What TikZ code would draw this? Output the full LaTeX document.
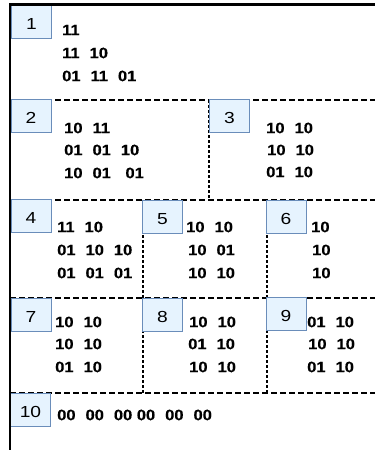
\documentclass[tikz,border=0pt]{standalone}
\usepackage{fontspec}
\setmainfont{Liberation Sans}
\newfontfamily\labelfont[FakeStretch=1.2]{Liberation Sans}
\newfontfamily\bitfont[FakeStretch=1.1,BoldFeatures={FakeBold=0.5}]{Liberation Sans}
\definecolor{boxfill}{HTML}{E6F3FE}
\definecolor{boxline}{HTML}{6A8DBA}
\newcommand\gap{\hspace{10pt}}
\begin{document}
\begin{tikzpicture}[
 x=1pt,y=-1pt,
 hdash/.style={line width=2pt,dash pattern=on 6pt off 3pt},
 vdash/.style={line width=1.6pt,dash pattern=on 3pt off 2pt},
 frame/.style={line width=2.8pt},
 numbox/.style={draw=boxline,fill=boxfill,line width=.9pt,minimum width=40pt,
  minimum height=33pt,inner sep=0pt,text height=15.5pt,text depth=0pt,
  font=\labelfont\fontsize{16}{18}\selectfont},
 bits/.style={anchor=west,inner sep=0pt,font=\bitfont\bfseries\fontsize{15}{17}\selectfont}]
 \useasboundingbox (0,0) rectangle (375,450);
 % Dashed grid.
 \draw[hdash] (10,99.5)--(375,99.5) (10,200)--(375,200)
  (10,298)--(375,298) (10,393)--(375,393);
 \draw[vdash] (209,100)--(209,200);
 \draw[vdash] (143,200)--(143,393) (267,200)--(267,393);
 % Number boxes.
 \foreach \n/\x/\y in {1/31.5/21.5,2/31/115.5,3/229.5/116,4/31/215.5,5/162.5/216.5,
  6/286/216.5,7/31/315,8/162.5/315,9/286/314,10/30.5/410}
  \node[numbox] (box\n) at (\x,\y) {\n};
 % Bit strings, one node per row.
 \foreach \x/\y/\t [count=\i] in {
  62/30/11, 62/53/11\gap10, 62/76/01\gap11\gap01,
  64/128/10\gap11, 64/150/01\gap01\gap10, 64/173/10\gap01\gap\hspace{4.6pt}01,
  266/128/10\gap10, 267/150/10\gap10, 266/172/01\gap10,
  57/227/11\gap10, 57/250/01\gap10\gap10, 57/273/01\gap01\gap01,
  186/227/10\gap10, 188/250/10\gap01, 188/273/10\gap10,
  311/227/10, 312/250/10, 312/273/10,
  55/322/10\gap10, 55/344/10\gap10, 55/367/01\gap10,
  189/322/10\gap10, 188/344/01\gap10, 189/367/10\gap10,
  307/322/01\gap10, 308/344/10\gap10, 307/367/01\gap10,
  57/415/00\gap00\gap00{ }00\gap00\gap00}
  \node[bits] (row\i) at (\x,\y) {\t};
 % Solid frame on top and left.
 \draw[frame] (10,450)--(10,4.5)--(375,4.5);
\end{tikzpicture}
\end{document}
